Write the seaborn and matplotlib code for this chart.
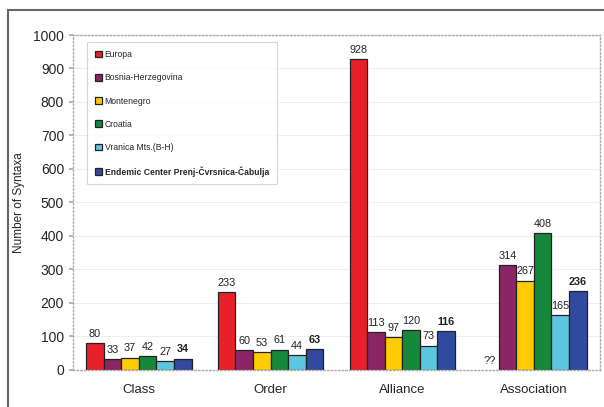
import pandas as pd
import numpy as np
import seaborn as sns
import matplotlib.pyplot as plt
from matplotlib.patches import Rectangle

# Data
ranks = ['Class', 'Order', 'Alliance', 'Association']
regions = ['Europa', 'Bosnia-Herzegovina', 'Montenegro', 'Croatia',
           'Vranica Mts.(B-H)', 'Endemic Center Prenj-Čvrsnica-Čabulja']
europa = [80, 233, 928, 0]          # Association value unknown ("??")
bosnia = [33, 60, 113, 314]
montenegro = [37, 53, 97, 267]
croatia = [42, 61, 120, 408]
vranica = [27, 44, 73, 165]
endemic = [34, 63, 116, 236]
colors = ['#e8202a', '#8c2566', '#ffcc00', '#15883c', '#5cc6df', '#2f4a9f']

series = [europa, bosnia, montenegro, croatia, vranica, endemic]
df = pd.DataFrame({
    'Rank': ranks * len(regions),
    'Region': np.repeat(regions, len(ranks)),
    'Count': sum(series, []),
})

sns.set_theme(style='white')
plt.rcParams['font.family'] = ['Liberation Sans', 'DejaVu Sans']

fig = plt.figure(figsize=(6.04, 4.07), dpi=100)
ax = fig.add_axes([0.121, 0.091, 0.872, 0.823])

sns.barplot(data=df, x='Rank', y='Count', hue='Region', order=ranks,
            hue_order=regions, palette=colors, width=0.8, saturation=1,
            edgecolor='#222222', linewidth=0.9, ax=ax)

# value labels
for i, cont in enumerate(ax.containers):
    labels = [str(v) for v in series[i]]
    if i == 0:
        labels[3] = '??'
        cont.patches[3].set_linewidth(0)
    weight = 'bold' if i == len(regions) - 1 else 'normal'
    ax.bar_label(cont, labels=labels, padding=3, fontsize=7.8,
                 fontweight=weight, color='#222222')

ax.set_ylim(0, 1000)
ax.set_yticks(range(0, 1001, 100))
ax.yaxis.grid(True, color='#eeeeee', linewidth=0.8)
ax.set_axisbelow(True)
ax.tick_params(axis='y', labelsize=10, length=3, color='#aaaaaa', left=True)
ax.tick_params(axis='x', labelsize=9.5, length=0, pad=10)
ax.set_xlabel('')
ax.set_ylabel('Number of Syntaxa', fontsize=8.5, labelpad=6)
for s in ax.spines.values():
    s.set_visible(True)
    s.set_linestyle(':')
    s.set_color('#b0a8a8')
    s.set_linewidth(1.0)

leg = ax.legend(loc='upper left', bbox_to_anchor=(0.027, 0.978), fontsize=6.2,
                frameon=True, fancybox=False, edgecolor='#cccccc',
                labelspacing=1.65, handlelength=0.8, handleheight=0.8,
                handletextpad=0.3, borderpad=0.9, borderaxespad=0)
leg.get_frame().set_linewidth(0.8)
leg.get_texts()[-1].set_fontweight('bold')

# outer frame
fig.patches.append(Rectangle((0.013, -0.1), 1.2, 1.075, transform=fig.transFigure,
                             fill=False, edgecolor='#666666', linewidth=1.5))

fig.savefig('out.png', dpi=100)
